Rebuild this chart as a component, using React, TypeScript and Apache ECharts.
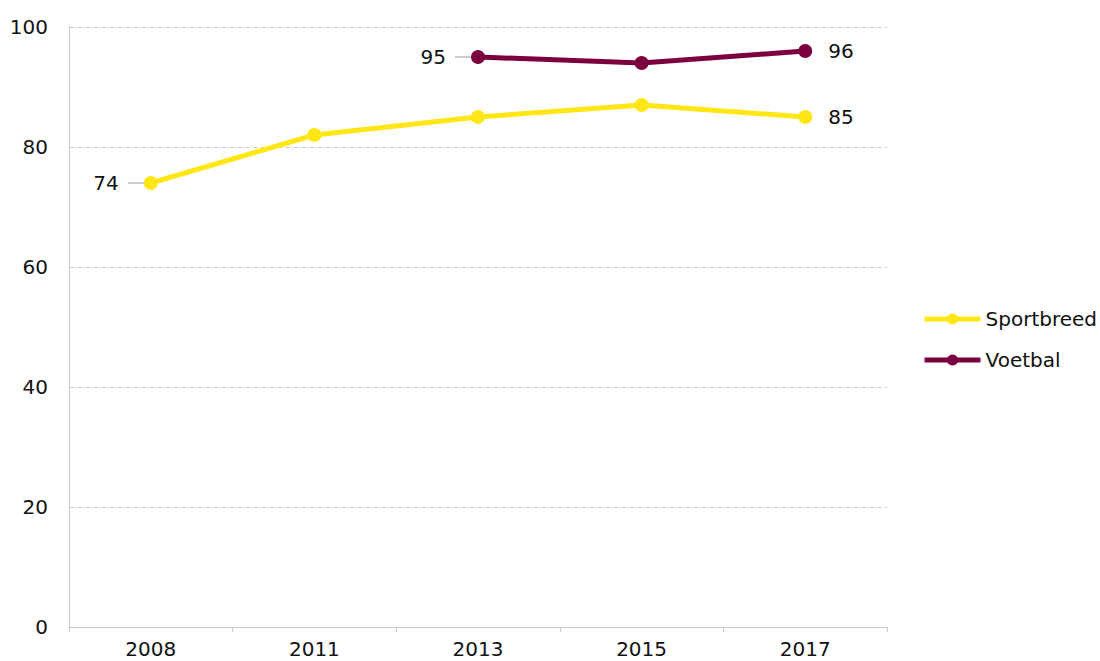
import React, { useEffect, useRef } from "react";
import * as echarts from "echarts";

const years = ["2008", "2011", "2013", "2015", "2017"];
const sportbreed = [74, 82, 85, 87, 85];
const voetbal: (number | null)[] = [null, null, 95, 94, 96];
const yTicks = [0, 20, 40, 60, 80, 100];

const FONT = "DejaVu Sans";
const TEXT = "#111111";

function labelled(values: (number | null)[], leftIdx: number, rightIdx: number) {
  return values.map((v, i) => {
    if (i === leftIdx) {
      return {
        value: v,
        label: {
          show: true,
          position: "left",
          distance: 0,
          formatter: "{t|{c}}{g|}{l|}",
          rich: {
            t: { fontSize: 20, color: TEXT, fontFamily: FONT },
            g: { width: 9, height: 1 },
            l: { width: 16, height: 1, backgroundColor: "#999999" },
          },
        },
      };
    }
    if (i === rightIdx) {
      return { value: v, label: { show: true, position: "right", distance: 16 } };
    }
    return v;
  });
}

export default function App() {
  const ref = useRef<HTMLDivElement>(null);
  useEffect(() => {
    const chart = echarts.init(ref.current!, null, { renderer: "svg" });
    chart.setOption({
      animation: false,
      textStyle: { fontFamily: FONT },
      grid: { left: 69, right: 213, top: 27, bottom: 34, containLabel: false },
      legend: {
        orient: "vertical",
        right: 3,
        top: 309,
        padding: 0,
        itemWidth: 56,
        itemHeight: 14,
        itemGap: 21,
        lineStyle: { width: 5 },
        textStyle: { fontSize: 20, color: TEXT, fontFamily: FONT },
        data: ["Sportbreed", "Voetbal"],
      },
      xAxis: {
        type: "category",
        data: years,
        boundaryGap: true,
        axisLine: { lineStyle: { color: "#c8c8c8", width: 1 } },
        axisTick: { show: true, alignWithLabel: false, length: 5, lineStyle: { color: "#c8c8c8" } },
        axisLabel: { fontSize: 20, lineHeight: 18, color: TEXT, margin: 13, fontFamily: FONT },
      },
      yAxis: {
        type: "value",
        min: 0,
        max: 100,
        interval: 20,
        axisLine: { show: true, lineStyle: { color: "#c8c8c8", width: 1 } },
        axisTick: { show: false },
        axisLabel: {
          fontSize: 20,
          color: TEXT,
          margin: 21,
          fontFamily: FONT,
          formatter: (v: number) => (yTicks.includes(v) ? String(v) : ""),
        },
        splitLine: { show: true, lineStyle: { color: "#cccccc", type: [5, 3], width: 1 } },
      },
      series: [
        {
          name: "Sportbreed",
          type: "line",
          data: labelled(sportbreed, 0, 4),
          color: "#FFE614",
          lineStyle: { width: 5, color: "#FFE614" },
          itemStyle: { color: "#FFE614" },
          symbol: "circle",
          symbolSize: 14,
          label: { show: false, fontSize: 20, color: TEXT, fontFamily: FONT },
        },
        {
          name: "Voetbal",
          type: "line",
          data: labelled(voetbal, 2, 4),
          color: "#7A003E",
          lineStyle: { width: 5, color: "#7A003E" },
          itemStyle: { color: "#7A003E" },
          symbol: "circle",
          symbolSize: 14,
          connectNulls: false,
          label: { show: false, fontSize: 20, color: TEXT, fontFamily: FONT },
        },
      ],
    });
    return () => chart.dispose();
  }, []);
  return <div ref={ref} style={{ width: 1100, height: 661, position: "absolute", left: 0, top: 0 }} />;
}
